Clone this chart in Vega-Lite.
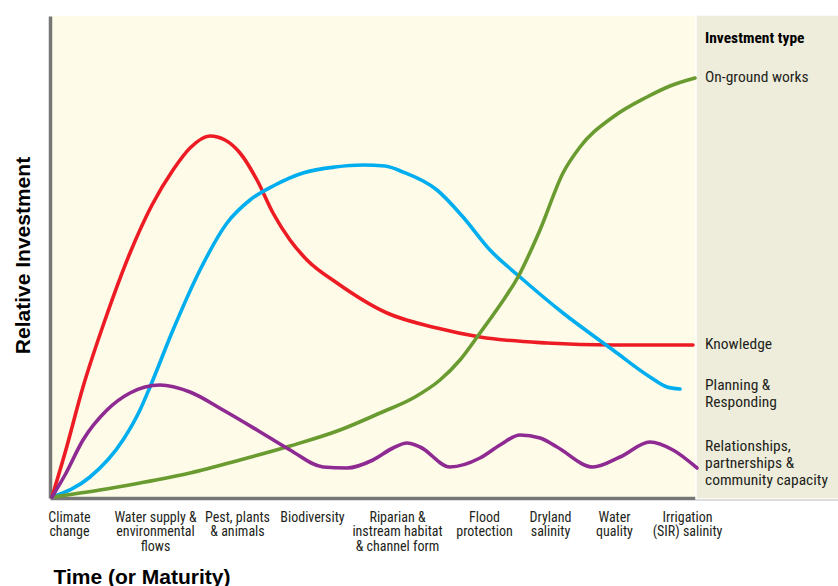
{
  "$schema": "https://vega.github.io/schema/vega-lite/v6.json",
  "width": 788,
  "height": 482,
  "autosize": {"type": "none"},
  "padding": {"left": 50, "top": 16, "right": 0, "bottom": 88},
  "background": "#FFFFFF",
  "config": {
    "view": {"fill": "#FEFCE9", "stroke": null},
    "font": "Roboto Condensed, DejaVu Sans Condensed, sans-serif"
  },
  "datasets": {
    "curves": [
      {"series": "Knowledge", "t": 2, "v": 1},
      {"series": "Knowledge", "t": 15, "v": 45},
      {"series": "Knowledge", "t": 33, "v": 111},
      {"series": "Knowledge", "t": 55, "v": 178},
      {"series": "Knowledge", "t": 80, "v": 245},
      {"series": "Knowledge", "t": 102, "v": 293},
      {"series": "Knowledge", "t": 123, "v": 328},
      {"series": "Knowledge", "t": 140, "v": 350},
      {"series": "Knowledge", "t": 160, "v": 362},
      {"series": "Knowledge", "t": 175, "v": 358},
      {"series": "Knowledge", "t": 190, "v": 345},
      {"series": "Knowledge", "t": 207, "v": 318},
      {"series": "Knowledge", "t": 223, "v": 285},
      {"series": "Knowledge", "t": 240, "v": 258},
      {"series": "Knowledge", "t": 257, "v": 238},
      {"series": "Knowledge", "t": 287, "v": 215},
      {"series": "Knowledge", "t": 337, "v": 185},
      {"series": "Knowledge", "t": 387, "v": 170},
      {"series": "Knowledge", "t": 430, "v": 161},
      {"series": "Knowledge", "t": 497, "v": 155},
      {"series": "Knowledge", "t": 563, "v": 153},
      {"series": "Knowledge", "t": 643, "v": 153},

      {"series": "Planning & Responding", "t": 2, "v": 1},
      {"series": "Planning & Responding", "t": 40, "v": 21},
      {"series": "Planning & Responding", "t": 73, "v": 58},
      {"series": "Planning & Responding", "t": 90, "v": 88},
      {"series": "Planning & Responding", "t": 100, "v": 111},
      {"series": "Planning & Responding", "t": 123, "v": 168},
      {"series": "Planning & Responding", "t": 150, "v": 228},
      {"series": "Planning & Responding", "t": 177, "v": 275},
      {"series": "Planning & Responding", "t": 200, "v": 298},
      {"series": "Planning & Responding", "t": 225, "v": 313},
      {"series": "Planning & Responding", "t": 253, "v": 325},
      {"series": "Planning & Responding", "t": 285, "v": 331},
      {"series": "Planning & Responding", "t": 313, "v": 333},
      {"series": "Planning & Responding", "t": 335, "v": 332},
      {"series": "Planning & Responding", "t": 353, "v": 326},
      {"series": "Planning & Responding", "t": 387, "v": 308},
      {"series": "Planning & Responding", "t": 413, "v": 281},
      {"series": "Planning & Responding", "t": 440, "v": 248},
      {"series": "Planning & Responding", "t": 470, "v": 221},
      {"series": "Planning & Responding", "t": 513, "v": 185},
      {"series": "Planning & Responding", "t": 563, "v": 148},
      {"series": "Planning & Responding", "t": 600, "v": 121},
      {"series": "Planning & Responding", "t": 617, "v": 111},
      {"series": "Planning & Responding", "t": 630, "v": 109},

      {"series": "On-ground works", "t": 2, "v": 1},
      {"series": "On-ground works", "t": 50, "v": 8},
      {"series": "On-ground works", "t": 90, "v": 15},
      {"series": "On-ground works", "t": 140, "v": 25},
      {"series": "On-ground works", "t": 190, "v": 38},
      {"series": "On-ground works", "t": 240, "v": 52},
      {"series": "On-ground works", "t": 290, "v": 68},
      {"series": "On-ground works", "t": 330, "v": 85},
      {"series": "On-ground works", "t": 365, "v": 101},
      {"series": "On-ground works", "t": 390, "v": 118},
      {"series": "On-ground works", "t": 410, "v": 138},
      {"series": "On-ground works", "t": 430, "v": 165},
      {"series": "On-ground works", "t": 450, "v": 193},
      {"series": "On-ground works", "t": 468, "v": 221},
      {"series": "On-ground works", "t": 490, "v": 268},
      {"series": "On-ground works", "t": 513, "v": 325},
      {"series": "On-ground works", "t": 530, "v": 351},
      {"series": "On-ground works", "t": 563, "v": 381},
      {"series": "On-ground works", "t": 597, "v": 401},
      {"series": "On-ground works", "t": 620, "v": 412},
      {"series": "On-ground works", "t": 645, "v": 420},

      {"series": "Relationships", "t": 2, "v": 1},
      {"series": "Relationships", "t": 15, "v": 23},
      {"series": "Relationships", "t": 33, "v": 58},
      {"series": "Relationships", "t": 57, "v": 88},
      {"series": "Relationships", "t": 80, "v": 105},
      {"series": "Relationships", "t": 110, "v": 113},
      {"series": "Relationships", "t": 140, "v": 106},
      {"series": "Relationships", "t": 173, "v": 88},
      {"series": "Relationships", "t": 207, "v": 68},
      {"series": "Relationships", "t": 240, "v": 48},
      {"series": "Relationships", "t": 273, "v": 31},
      {"series": "Relationships", "t": 297, "v": 30},
      {"series": "Relationships", "t": 323, "v": 38},
      {"series": "Relationships", "t": 343, "v": 50},
      {"series": "Relationships", "t": 357, "v": 55},
      {"series": "Relationships", "t": 370, "v": 51},
      {"series": "Relationships", "t": 400, "v": 31},
      {"series": "Relationships", "t": 430, "v": 40},
      {"series": "Relationships", "t": 450, "v": 53},
      {"series": "Relationships", "t": 470, "v": 63},
      {"series": "Relationships", "t": 490, "v": 60},
      {"series": "Relationships", "t": 507, "v": 51},
      {"series": "Relationships", "t": 543, "v": 31},
      {"series": "Relationships", "t": 570, "v": 41},
      {"series": "Relationships", "t": 600, "v": 56},
      {"series": "Relationships", "t": 623, "v": 48},
      {"series": "Relationships", "t": 647, "v": 30}
    ],
    "labels": [
      {"series": "On-ground works", "label": "On-ground works", "v": 421},
      {"series": "Knowledge", "label": "Knowledge", "v": 154},
      {"series": "Planning & Responding", "label": "Planning &\nResponding", "v": 113},
      {"series": "Relationships", "label": "Relationships,\npartnerships &\ncommunity capacity", "v": 52}
    ]
  },
  "layer": [
    {
      "data": {"values": [{"panel": "Investment type"}]},
      "mark": {"type": "rect", "fill": "#EEEDDB", "stroke": "#FFFFFF", "strokeWidth": 1.5},
      "encoding": {
        "x": {"datum": 646, "type": "quantitative", "scale": {"domain": [0, 788], "nice": false, "zero": false}},
        "x2": {"datum": 789},
        "y": {"datum": -1, "type": "quantitative", "scale": {"domain": [0, 482], "nice": false, "zero": false}},
        "y2": {"datum": 483}
      }
    },
    {
      "data": {"name": "curves"},
      "mark": {"type": "line", "interpolate": "monotone", "strokeWidth": 3.6, "strokeCap": "round", "strokeJoin": "round"},
      "encoding": {
        "x": {
          "field": "t", "type": "quantitative",
          "scale": {"domain": [0, 788], "nice": false, "zero": false},
          "axis": {
            "title": "Time (or Maturity)",
            "titleFont": "Liberation Sans, Arial, sans-serif",
            "titleFontSize": 21,
            "titleFontWeight": "bold",
            "titleColor": "#000000",
            "titleAlign": "left",
            "titleBaseline": "alphabetic",
            "titleX": 3,
            "titleY": 85,
            "values": [19, 105, 187, 262, 347, 434, 500, 564, 637],
            "labelExpr": "datum.value == 19 ? ['Climate','change'] : datum.value == 105 ? ['Water supply &','environmental','flows'] : datum.value == 187 ? ['Pest, plants','& animals'] : datum.value == 262 ? ['Biodiversity'] : datum.value == 347 ? ['Riparian &','instream habitat','& channel form'] : datum.value == 434 ? ['Flood','protection'] : datum.value == 500 ? ['Dryland','salinity'] : datum.value == 564 ? ['Water','quality'] : ['Irrigation','(SIR) salinity']",
            "labelFontSize": 14,
            "labelLineHeight": 14.7,
            "labelColor": "#231F20",
            "labelBaseline": "top",
            "labelPadding": 12,
            "labelOverlap": false,
            "labelFlush": false,
            "labelBound": false,
            "ticks": false,
            "tickSize": 0,
            "grid": false,
            "domainColor": "#777777",
            "domainWidth": 3.5
          }
        },
        "y": {
          "field": "v", "type": "quantitative",
          "scale": {"domain": [0, 482], "nice": false, "zero": false},
          "axis": {
            "title": "Relative Investment",
            "titleFont": "Liberation Sans, Arial, sans-serif",
            "titleFontSize": 21,
            "titleFontWeight": "bold",
            "titleColor": "#000000",
            "titleAngle": 270,
            "titleAlign": "center",
            "titleBaseline": "alphabetic",
            "titleX": -21,
            "titleY": 239,
            "labels": false,
            "ticks": false,
            "tickSize": 0,
            "grid": false,
            "domainColor": "#777777",
            "domainWidth": 3.5
          }
        },
        "color": {
          "field": "series", "type": "nominal", "legend": null,
          "scale": {
            "domain": ["Knowledge", "Planning & Responding", "On-ground works", "Relationships"],
            "range": ["#ED1C24", "#00AEEF", "#6A9B30", "#8E2A91"]
          }
        },
        "detail": {"field": "series"}
      }
    },
    {
      "data": {"name": "labels"},
      "mark": {"type": "text", "align": "left", "baseline": "middle", "fontSize": 15.5, "lineHeight": 17, "lineBreak": "\n", "color": "#231F20"},
      "encoding": {
        "x": {"datum": 655, "type": "quantitative"},
        "y": {"field": "v", "type": "quantitative"},
        "text": {"field": "label"}
      }
    },
    {
      "data": {"values": [{"heading": "Investment type"}]},
      "mark": {"type": "text", "align": "left", "baseline": "middle", "fontSize": 15.5, "fontWeight": "bold", "color": "#000000"},
      "encoding": {
        "x": {"datum": 655, "type": "quantitative"},
        "y": {"datum": 460, "type": "quantitative"},
        "text": {"field": "heading"}
      }
    }
  ]
}
